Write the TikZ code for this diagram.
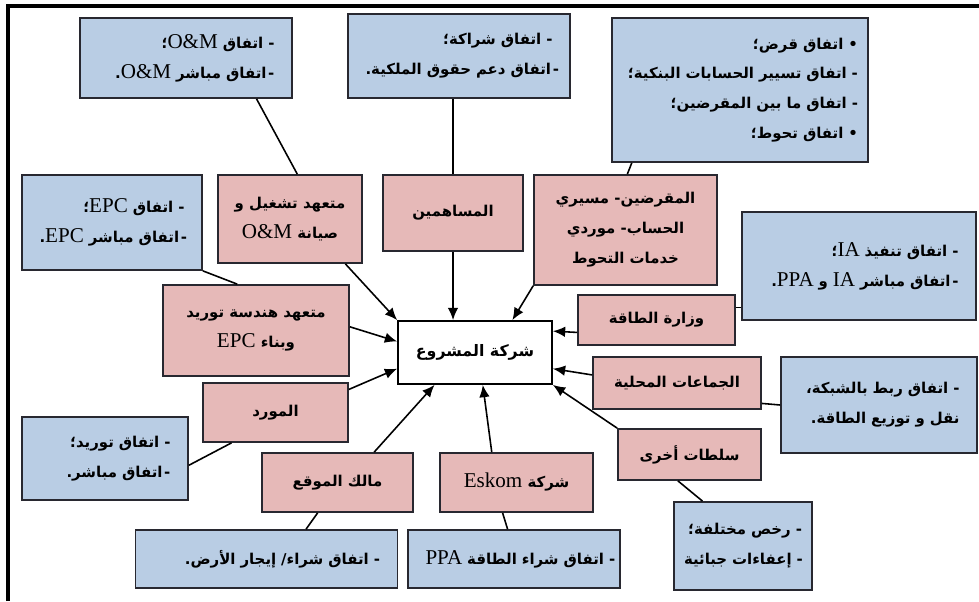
\documentclass[tikz,border=0pt]{standalone}
\usepackage{fontspec}
\usepackage{tikz}
\usepackage{xcolor}
\usetikzlibrary{calc,arrows.meta}
\TeXXeTstate=1
\newfontfamily\arfont[Script=Arabic]{DejaVu Sans}
\newfontfamily\latfont{Liberation Serif}
\definecolor{agreeBlue}{RGB}{185,205,228}
\definecolor{partyPink}{RGB}{230,185,184}
\definecolor{edgeGray}{RGB}{40,40,48}
\newcommand{\arline}[1]{\mbox{\beginR #1\endR}}
\newcommand{\latword}[1]{\beginL{\latfont\mdseries\fontsize{12}{17}\selectfont #1}\endL}
\tikzset{
  agree/.style={draw=edgeGray,line width=1pt,fill=agreeBlue,inner xsep=0.35cm,inner ysep=2pt,align=right,
    font=\arfont\bfseries\fontsize{8.5}{17}\selectfont},
  party/.style={draw=edgeGray,line width=1pt,fill=partyPink,inner sep=2pt,align=center,
    font=\arfont\bfseries\fontsize{8.5}{17}\selectfont},
  hub/.style={draw=black,line width=1pt,fill=white,align=center,
    font=\arfont\bfseries\fontsize{9}{17}\selectfont},
  link/.style={line width=0.9pt},
  feed/.style={link,-{Latex[length=7pt,width=6pt]}}
}

\begin{document}
\begin{tikzpicture}[x=0.02cm,y=-0.02cm]
\useasboundingbox (0,0) rectangle (979,601);
\draw[line width=2.3pt] (8,601) -- (8,6) -- (979,6);

% agreements
\node[agree,text width=3.54cm,minimum height=1.60cm] (omDeal) at (186,58)
  {\arline{- اتفاق \latword{O\&M}؛}\\ \arline{-\kern1pt اتفاق مباشر \latword{O\&M}.}};
\node[agree,text width=3.74cm,minimum height=1.68cm] (shareDeal) at (459,56)
  {\arline{- اتفاق شراكة؛}\\ \arline{-\kern1pt اتفاق دعم حقوق الملكية.}};
\node[agree,text width=4.72cm,inner xsep=0.2cm,minimum height=2.88cm] (loanDeal) at (740,90)
  {\arline{• اتفاق قرض؛}\\ \arline{- اتفاق تسيير الحسابات البنكية؛}\\ \arline{- اتفاق ما بين المقرضين؛}\\ \arline{• اتفاق تحوط؛}};
\node[agree,text width=2.90cm,minimum height=1.90cm] (epcDeal) at (112,222.5)
  {\arline{- اتفاق \latword{EPC}؛}\\ \arline{-\kern1pt اتفاق مباشر \latword{EPC}.}};
\node[agree,text width=3.98cm,minimum height=2.16cm] (iaDeal) at (859,266)
  {\arline{- اتفاق تنفيذ \latword{IA}؛}\\ \arline{-\kern1pt اتفاق مباشر \latword{IA} و \latword{PPA}.}};
\node[agree,text width=3.22cm,minimum height=1.92cm] (gridDeal) at (879,405)
  {\arline{- اتفاق ربط بالشبكة،}\\ \arline{نقل و توزيع الطاقة.}};
\node[agree,text width=2.62cm,minimum height=1.66cm] (supplyDeal) at (105,458.5)
  {\arline{- اتفاق توريد؛}\\ \arline{-\kern1pt اتفاق مباشر.}};
\node[agree,text width=4.54cm,minimum height=1.16cm] (landDeal) at (266.5,559)
  {\arline{- اتفاق شراء/ إيجار الأرض.}};
\node[agree,text width=3.54cm,minimum height=1.16cm] (ppaDeal) at (514,559)
  {\arline{- اتفاق شراء الطاقة \latword{PPA}}};
\node[agree,text width=2.36cm,inner xsep=0.2cm,minimum height=1.76cm] (permitDeal) at (743,546)
  {\arline{- رخص مختلفة؛}\\ \arline{- إعفاءات جبائية}};

% parties
\node[party,minimum width=2.88cm,minimum height=1.76cm] (omCo) at (290,219)
  {\arline{متعهد تشغيل و}\\ \arline{صيانة \latword{O\&M}}};
\node[party,minimum width=2.80cm,minimum height=1.52cm] (holders) at (453,213)
  {\arline{المساهمين}};
\node[party,minimum width=3.66cm,minimum height=2.20cm] (lenders) at (625.5,230)
  {\arline{المقرضين- مسيري}\\ \arline{الحساب- موردي}\\ \arline{خدمات التحوط}};
\node[party,minimum width=3.72cm,minimum height=1.82cm] (epcCo) at (256,330.5)
  {\arline{متعهد هندسة توريد}\\ \arline{وبناء \latword{EPC}}};
\node[party,minimum width=2.90cm,minimum height=1.18cm] (supplier) at (275.5,412.5)
  {\arline{المورد}};
\node[hub,minimum width=3.08cm,minimum height=1.26cm] (project) at (475,352.5)
  {\arline{شركة المشروع}};
\node[party,minimum width=3.14cm,minimum height=1.00cm] (ministry) at (656.5,320)
  {\arline{وزارة الطاقة}};
\node[party,minimum width=3.36cm,minimum height=1.04cm] (locals) at (677,383)
  {\arline{الجماعات المحلية}};
\node[party,minimum width=2.86cm,minimum height=1.02cm] (authorities) at (689.5,454.5)
  {\arline{سلطات أخرى}};
\node[party,minimum width=3.02cm,minimum height=1.18cm] (landOwner) at (337.5,482.5)
  {\arline{مالك الموقع}};
\node[party,minimum width=3.06cm,minimum height=1.18cm] (eskom) at (516.5,482.5)
  {\arline{شركة \latword{Eskom}}};

% connectors
\draw[link] ($(omDeal.south west)!0.83!(omDeal.south east)$) -- ($(omCo.north west)!0.55!(omCo.north east)$);
\draw[feed] ($(omCo.south west)!0.88!(omCo.south east)$) -- (project.north west);
\draw[link] (holders.north) -- (holders.north |- shareDeal.south);
\draw[feed] (holders.south) -- (holders.south |- project.north);
\draw[link] ($(loanDeal.south west)!0.08!(loanDeal.south east)$) -- ($(lenders.north west)!0.51!(lenders.north east)$);
\draw[feed] (lenders.south west) -- ($(project.north west)!0.74!(project.north east)$);
\draw[link] (epcDeal.south east) -- ($(epcCo.north west)!0.4!(epcCo.north east)$);
\draw[feed] ($(epcCo.north east)!0.46!(epcCo.south east)$) -- ($(project.north west)!0.33!(project.south west)$);
\draw[feed] ($(supplier.north east)!0.12!(supplier.south east)$) -- ($(project.north west)!0.75!(project.south west)$);
\draw[link] ($(supplyDeal.north east)!0.58!(supplyDeal.south east)$) -- ($(supplier.south west)!0.2!(supplier.south east)$);
\draw[feed] ($(landOwner.north west)!0.74!(landOwner.north east)$) -- ($(project.south west)!0.24!(project.south east)$);
\draw[link] ($(landDeal.north west)!0.65!(landDeal.north east)$) -- ($(landOwner.south west)!0.37!(landOwner.south east)$);
\draw[feed] ($(eskom.north west)!0.34!(eskom.north east)$) -- ($(project.south west)!0.55!(project.south east)$);
\draw[link] ($(ppaDeal.north west)!0.47!(ppaDeal.north east)$) -- ($(eskom.south west)!0.41!(eskom.south east)$);
\draw[feed] ($(ministry.north west)!0.74!(ministry.south west)$) -- ($(project.north east)!0.17!(project.south east)$);
\draw[feed] ($(locals.north west)!0.35!(locals.south west)$) -- ($(project.north east)!0.75!(project.south east)$);
\draw[feed] (authorities.north west) -- (project.south east);
\draw[link] ($(ministry.north east)!0.26!(ministry.south east)$) coordinate (mEnd) -- (mEnd -| iaDeal.west);
\draw[link] ($(locals.north east)!0.88!(locals.south east)$) -- (gridDeal.west);
\draw[link] ($(authorities.south west)!0.42!(authorities.south east)$) -- ($(permitDeal.north west)!0.21!(permitDeal.north east)$);
\end{tikzpicture}
\end{document}
